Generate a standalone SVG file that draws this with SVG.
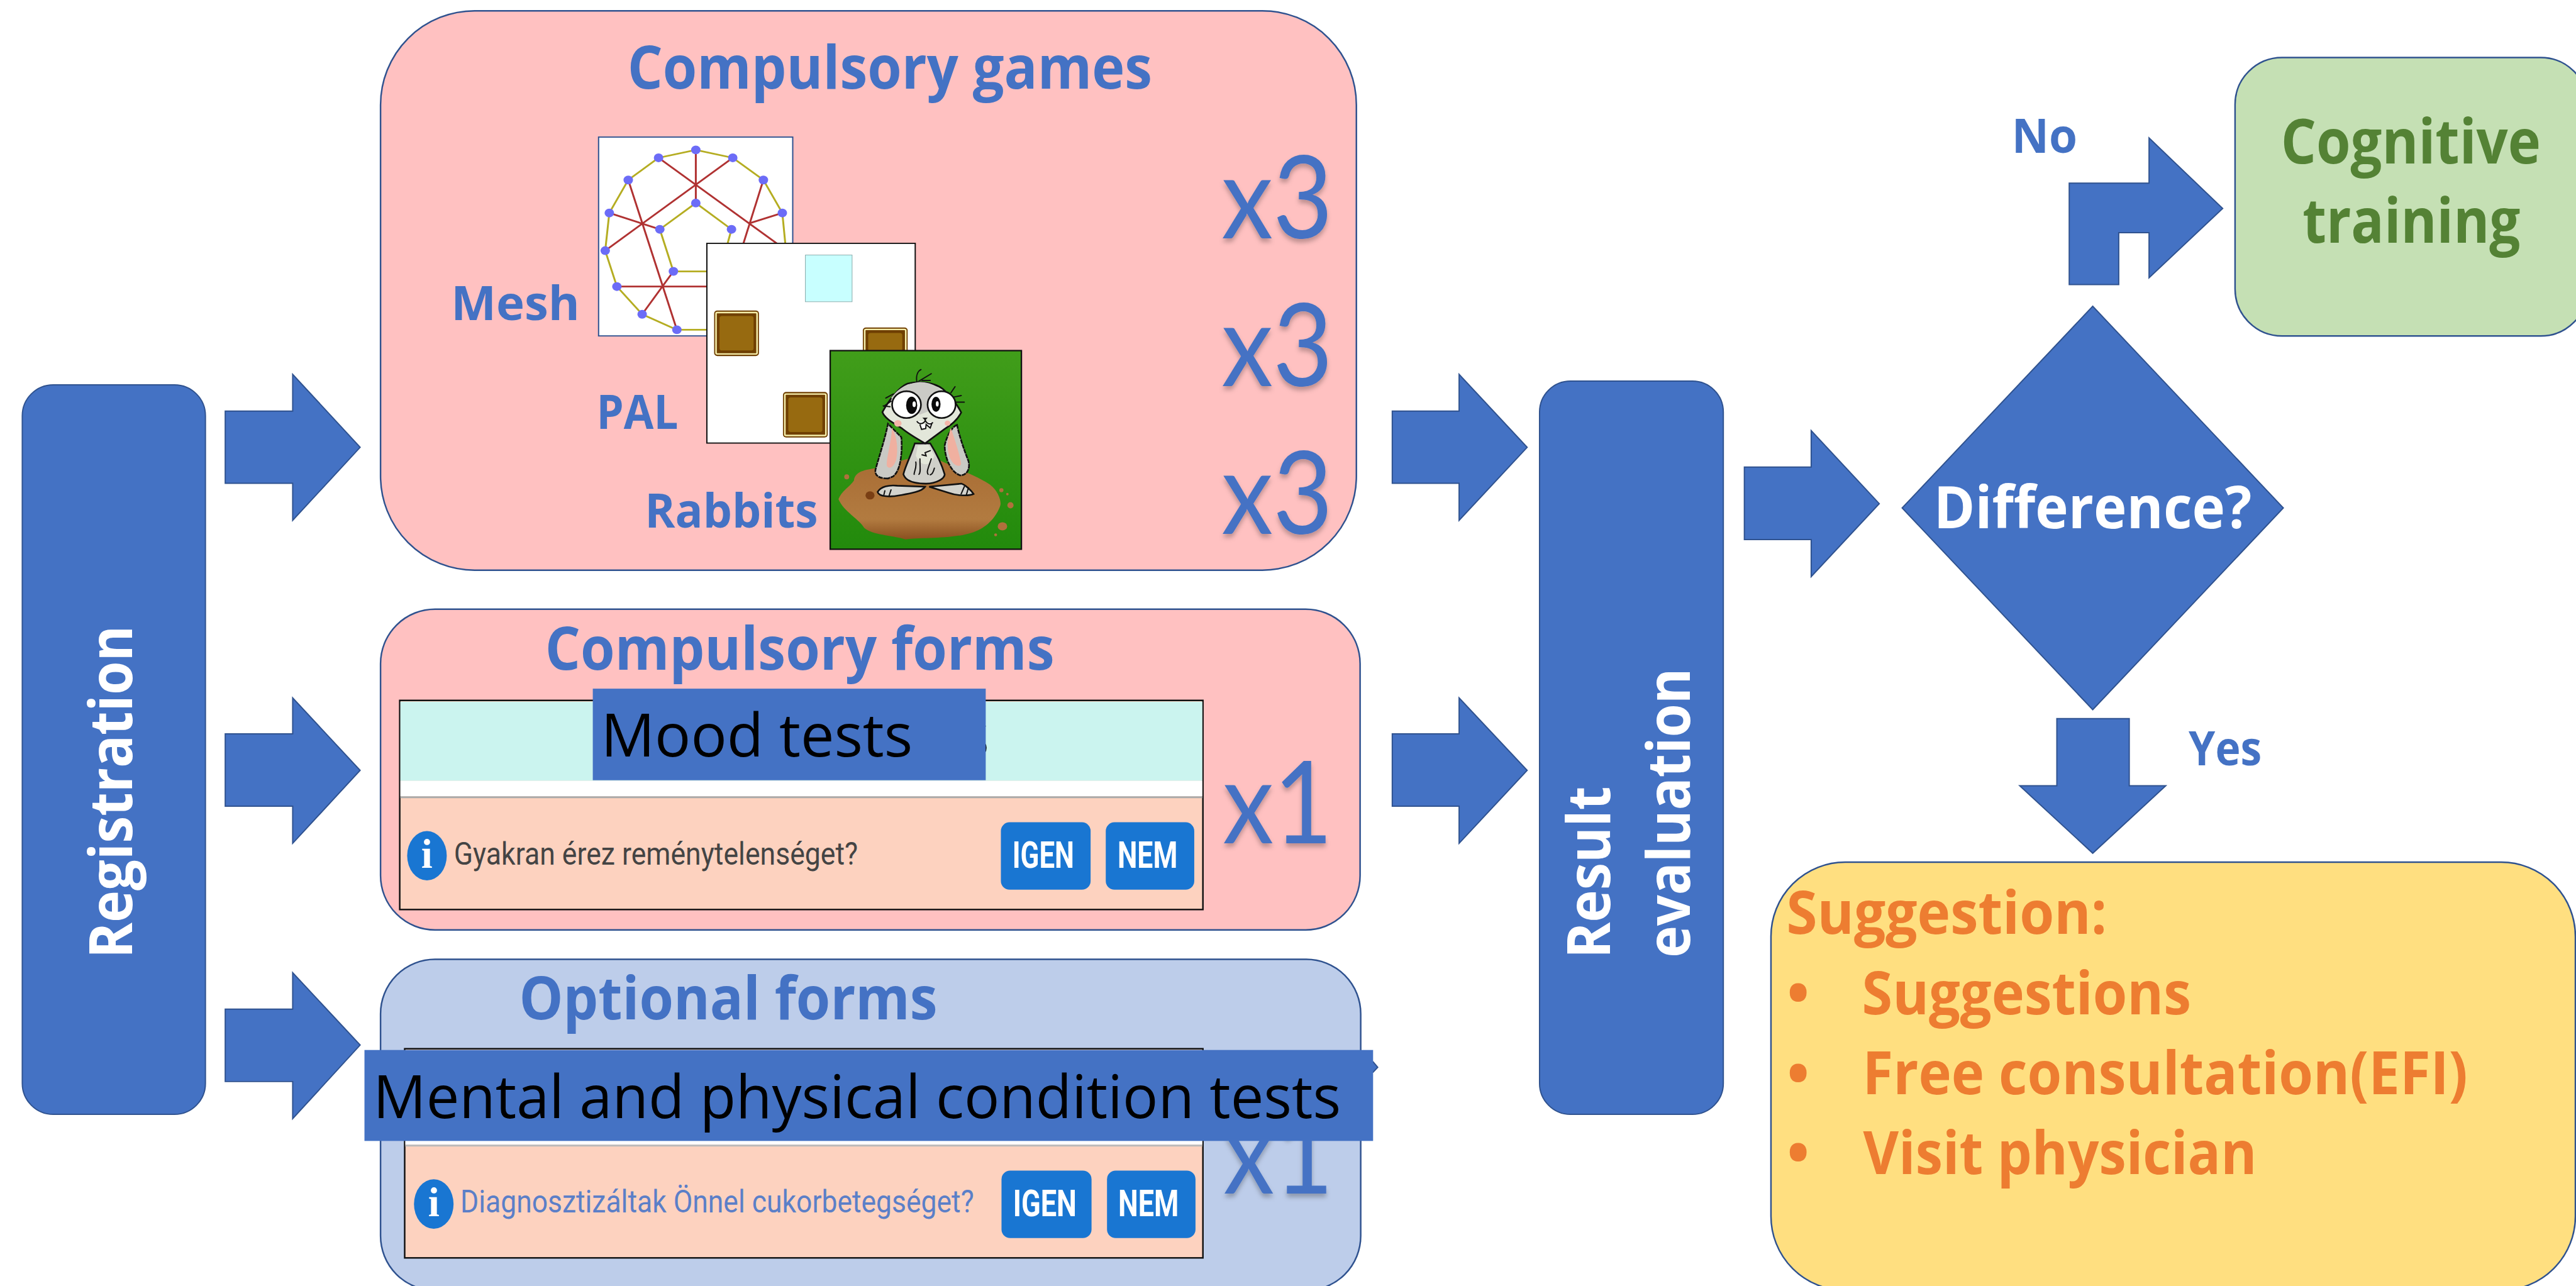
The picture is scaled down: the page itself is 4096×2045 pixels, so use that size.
<svg xmlns="http://www.w3.org/2000/svg" width="4096" height="2045" viewBox="0 0 4096 2045">
<style>
text{font-family:"Open Sans",Lato,sans-serif}
.b{font-weight:700}
.h{font-weight:700;font-size:97px;fill:#4472c4}
.l{font-weight:700;font-size:77px;fill:#4472c4}
.w{font-weight:700;fill:#fff}
.o{font-weight:700;font-size:97px;fill:#ed7d31}
.x{font-family:Lato,sans-serif;font-size:186px;fill:#4472c4;filter:url(#sh)}
.k{font-size:96px;fill:#000}
.arrow{fill:#4472c4;stroke:#2f528f;stroke-width:2}
.box{stroke:#2f528f;stroke-width:2.5}
.q{font-family:Roboto,sans-serif;font-size:50px}
.btn{fill:#1976d2}
.bt{font-family:Roboto,sans-serif;font-weight:700;font-size:60px;fill:#fff}
.ic{fill:#1976d2}
.it{font-family:"Liberation Serif",serif;font-weight:700;font-size:66px;fill:#fff;text-anchor:middle}
.yl{stroke:#b5ad22;stroke-width:6;fill:none}
.rd{stroke:#b03232;stroke-width:6;fill:none}
.nd{fill:#6c6cf7}
.ln{stroke:#111;stroke-width:6;fill:none;stroke-linecap:round}
</style>
<defs>
<filter id="sh" x="-10%" y="-10%" width="120%" height="130%"><feDropShadow dx="0" dy="6" stdDeviation="4" flood-color="#000" flood-opacity=".25"/></filter>
<linearGradient id="gg" x1="0" y1="0" x2="0" y2="1"><stop offset="0" stop-color="#419d1a"/><stop offset="1" stop-color="#228a0c"/></linearGradient>
<linearGradient id="mg" x1="0" y1="0" x2="0" y2="1"><stop offset="0" stop-color="#a86c34"/><stop offset=".75" stop-color="#b27b40"/><stop offset="1" stop-color="#8a5020"/></linearGradient>
<g id="crate"><rect x="0" y="0" width="142" height="156" rx="10" fill="#6f3f02"/><rect x="6" y="7" width="130" height="142" rx="4" fill="none" stroke="#f6eeaa" stroke-width="5"/><rect x="17" y="19" width="108" height="118" rx="8" fill="#976a10"/></g>
</defs>
<g transform="scale(.98391)">
<g id="connectors">
<polygon class="arrow" points="364,664.5 473,664.5 473,605 582,723 473,841 473,781 364,781"/>
<polygon class="arrow" points="364,1186 473,1186 473,1128 582,1245 473,1363 473,1303 364,1303"/>
<polygon class="arrow" points="364,1631 473,1631 473,1572 582,1689 473,1808 473,1748 364,1748"/>
<polygon class="arrow" points="2250,664.5 2358,664.5 2358,605 2468,723 2358,841 2358,781 2250,781"/>
<polygon class="arrow" points="2250,1186 2358,1186 2358,1128 2468,1245 2358,1363 2358,1303 2250,1303"/>
<polygon class="arrow" points="2200,1716 2219,1716 2226.5,1725 2219,1733 2200,1733"/>
<polygon class="arrow" points="2819,755 2927,755 2927,696 3037,814 2927,932 2927,872 2819,872"/>
<polygon class="arrow" points="3344,460 3344,296 3473,296 3473,223 3592,337 3473,449 3473,376 3424,376 3424,460"/>
<polygon class="arrow" points="3324,1161.5 3441,1161.5 3441,1270 3500,1270 3382,1379 3264,1270 3324,1270"/>
</g>
<g id="registration">
<rect x="36" y="622" width="296" height="1179" rx="50" fill="#4472c4" stroke="#2f528f" stroke-width="2"/>
<text class="w" font-size="96" transform="translate(213.5 1549) rotate(-90)" textLength="538" lengthAdjust="spacingAndGlyphs">Registration</text>
</g>
<g id="compulsory-games">
<rect class="box" x="615" y="17.5" width="1577" height="904" rx="152" fill="#ffc1c1"/>
<text class="h" x="1014" y="143" textLength="848" lengthAdjust="spacingAndGlyphs">Compulsory games</text>
<text class="l" x="729" y="517" textLength="208" lengthAdjust="spacingAndGlyphs">Mesh</text>
<text class="l" x="964" y="693" textLength="132" lengthAdjust="spacingAndGlyphs">PAL</text>
<text class="l" x="1042" y="852.5" textLength="280" lengthAdjust="spacingAndGlyphs">Rabbits</text>
<text class="x" x="1974" y="385" textLength="180" lengthAdjust="spacingAndGlyphs">x3</text>
<text class="x" x="1974" y="624" textLength="180" lengthAdjust="spacingAndGlyphs">x3</text>
<text class="x" x="1974" y="863" textLength="180" lengthAdjust="spacingAndGlyphs">x3</text>
<g transform="translate(900 180) scale(.5102 .4719)">
<rect x="132" y="88" width="615" height="681" fill="#fff" stroke="#2f528f" stroke-width="4"/>
<polyline class="yl" points="380,748 270,695 190,600 153,477 166,348 226,235 322,159 440,132 557,159 654,235 714,348 725,470"/>
<polyline class="yl" points="475,548 369,548 326,404 440,314 553,404 540,455"/>
<line class="yl" x1="380" y1="748" x2="480" y2="748"/>
<g class="rd">
<line x1="440" y1="132" x2="440" y2="314"/>
<line x1="322" y1="159" x2="700" y2="455"/>
<line x1="557" y1="159" x2="153" y2="477"/>
<line x1="226" y1="235" x2="380" y2="748"/>
<line x1="166" y1="348" x2="326" y2="404"/>
<line x1="714" y1="348" x2="608" y2="384"/>
<line x1="654" y1="235" x2="590" y2="455"/>
<line x1="190" y1="600" x2="480" y2="600"/>
<line x1="369" y1="548" x2="270" y2="695"/>
</g>
<g class="nd">
<circle cx="440" cy="132" r="15"/><circle cx="557" cy="159" r="15"/><circle cx="654" cy="235" r="15"/><circle cx="714" cy="348" r="15"/><circle cx="322" cy="159" r="15"/><circle cx="226" cy="235" r="15"/><circle cx="166" cy="348" r="15"/><circle cx="153" cy="477" r="15"/><circle cx="190" cy="600" r="15"/><circle cx="270" cy="695" r="15"/><circle cx="380" cy="748" r="15"/><circle cx="440" cy="314" r="15"/><circle cx="326" cy="404" r="15"/><circle cx="553" cy="404" r="15"/><circle cx="369" cy="548" r="15"/>
</g>
<rect x="475" y="452" width="660" height="684" fill="#fff" stroke="#111" stroke-width="4"/>
<rect x="787" y="492" width="148" height="160" fill="#c8ffff" stroke="#8aa" stroke-width="2"/>
<use href="#crate" x="498" y="682"/>
<use href="#crate" x="969" y="740"/>
<use href="#crate" x="716" y="961"/>
</g>
<g transform="translate(1340 560) scale(.33333)">
<rect x="5" y="20" width="927" height="963" fill="url(#gg)" stroke="#111" stroke-width="7"/>
<path d="M45,740 C60,700 100,680 120,650 C125,610 160,600 225,590 L380,545 L530,550 C620,590 720,630 780,670 C820,700 835,750 830,770 C810,830 760,880 700,900 C600,935 450,925 370,935 C300,915 210,915 170,880 C150,840 70,800 45,740Z" fill="url(#mg)"/>
<g fill="#b0703c"><circle cx="85" cy="632" r="12"/><circle cx="835" cy="697" r="10"/><circle cx="864" cy="716" r="6"/><circle cx="879" cy="770" r="15"/><ellipse cx="840" cy="872" rx="23" ry="20"/><circle cx="807" cy="913" r="7"/></g>
<ellipse cx="198" cy="722" rx="22" ry="20" fill="#7a3f14"/>
<path d="M285,640 C220,640 222,610 225,595 C240,540 270,450 285,375 L350,440 C355,500 350,600 310,630Z" fill="#c9c9c4" stroke="#111" stroke-width="8" stroke-dasharray="22 3"/>
<path d="M305,395 C300,470 275,550 280,580 C295,600 315,580 325,550 C335,500 330,440 305,395Z" fill="#f0b0a0"/>
<path d="M620,380 C600,385 570,430 560,480 C560,540 590,610 635,625 C670,625 685,590 675,555 C650,490 630,430 620,380Z" fill="#c9c9c4" stroke="#111" stroke-width="8" stroke-dasharray="22 3"/>
<path d="M590,395 C570,450 570,500 585,540 C600,575 630,590 640,570 C630,510 605,440 590,395Z" fill="#f0b0a0"/>
<path d="M415,470 C400,520 365,590 360,620 C370,650 410,665 470,665 C520,665 560,640 560,620 C545,570 515,510 490,470Z" fill="#d0d0ca" stroke="#111" stroke-width="8"/>
<path d="M430,480 L420,530 C440,580 490,590 510,530 L480,475Z" fill="#e3e7da"/>
<path d="M235,705 C250,680 290,670 330,675 L465,680 C450,705 380,715 340,722 C300,730 240,730 235,705Z" fill="#d3d3cd" stroke="#111" stroke-width="8"/>
<path d="M485,680 L640,665 C660,670 690,700 700,715 C680,725 620,725 580,710Z" fill="#d3d3cd" stroke="#111" stroke-width="8"/>
<path class="ln" d="M420,560 C425,590 410,610 412,620 M440,545 C440,590 445,610 435,620 M495,545 C480,590 470,610 480,620 M510,590 C505,610 500,620 490,622 M450,525 L470,530 L465,515 L490,505 M265,720 L270,700 M290,725 L300,695 M640,715 L655,680 M665,720 L675,685"/>
<path d="M258,318 C290,260 340,195 380,180 C440,165 510,175 550,205 C590,240 620,280 640,320 C620,360 590,380 560,400 L465,470 C430,450 380,420 350,395 C310,370 270,350 258,318Z" fill="#e3e7da" stroke="#111" stroke-width="8"/>
<path d="M300,250 C340,195 380,180 440,172 C500,172 550,205 600,270 L440,330Z" fill="#cbcbc6"/>
<path class="ln" d="M425,170 C420,140 430,120 445,112 M435,168 L495,132 M450,165 L490,165 M312,230 L275,250 M300,265 L265,290 M295,292 L262,288 M590,225 L610,195 M605,245 L640,238 M615,270 L655,270"/>
<ellipse cx="375" cy="282" rx="70" ry="65" fill="#fff" stroke="#111" stroke-width="8"/>
<ellipse cx="545" cy="282" rx="68" ry="65" fill="#fff" stroke="#111" stroke-width="8"/>
<ellipse cx="400" cy="285" rx="27" ry="42" fill="#0a0a0a"/><ellipse cx="412" cy="280" rx="8" ry="14" fill="#fff"/>
<ellipse cx="518" cy="280" rx="22" ry="36" fill="#0a0a0a"/><ellipse cx="524" cy="278" rx="7" ry="13" fill="#fff"/>
<ellipse cx="333" cy="373" rx="18" ry="16" fill="#f4b5a8"/><ellipse cx="574" cy="372" rx="14" ry="13" fill="#f4b5a8"/>
<path d="M425,362 C440,385 470,370 465,350 C465,370 490,385 503,368 M440,378 L448,402 L468,398 L470,378 L490,395 L498,372" fill="#fff" stroke="#111" stroke-width="6"/>
<path d="M452,345 L478,345 L465,358Z" fill="#111"/>
</g>
</g>
<g id="compulsory-forms">
<rect class="box" x="615" y="984.5" width="1583" height="518.5" rx="88" fill="#ffc1c1"/>
<text class="h" x="881" y="1082" textLength="823" lengthAdjust="spacingAndGlyphs">Compulsory forms</text>
<rect x="646" y="1132" width="1298" height="338" fill="#fdd2bf" stroke="#111" stroke-width="2.5"/>
<rect x="647" y="1134" width="1296" height="128" fill="#cbf4ef"/>
<rect x="647" y="1262" width="1296" height="25" fill="#fff"/>
<rect x="647" y="1287" width="1296" height="3" fill="#aaa"/>
<ellipse class="ic" cx="690" cy="1383" rx="32" ry="40"/>
<text class="it" x="690" y="1403">i</text>
<text class="q" x="733.5" y="1397" fill="#444" textLength="653" lengthAdjust="spacingAndGlyphs">Gyakran érez reménytelenséget?</text>
<rect class="btn" x="1617.5" y="1329" width="145" height="109" rx="14"/>
<rect class="btn" x="1787" y="1329" width="143" height="109" rx="14"/>
<text class="bt" x="1636" y="1403" textLength="100" lengthAdjust="spacingAndGlyphs">IGEN</text>
<text class="bt" x="1806" y="1403" textLength="97" lengthAdjust="spacingAndGlyphs">NEM</text>
<text class="k" x="1553" y="1223">s</text>
<rect x="958" y="1113" width="635" height="148" fill="#4472c4"/>
<text class="k" x="971" y="1223" textLength="504" lengthAdjust="spacingAndGlyphs">Mood tests</text>
<text class="x" x="1976" y="1363" textLength="178" lengthAdjust="spacingAndGlyphs">x1</text>
</g>
<g id="optional-forms">
<rect class="box" x="615" y="1550.5" width="1584" height="535" rx="88" fill="#bdcdea"/>
<text class="h" x="839" y="1648" textLength="676" lengthAdjust="spacingAndGlyphs">Optional forms</text>
<text class="x" x="1977" y="1929" textLength="178" lengthAdjust="spacingAndGlyphs">x1</text>
<rect x="654" y="1695" width="1290" height="338" fill="#fdd2bf" stroke="#111" stroke-width="2.5"/>
<rect x="655" y="1697" width="1288" height="153" fill="#fff"/>
<rect x="655" y="1850" width="1288" height="3" fill="#bbb"/>
<ellipse class="ic" cx="701" cy="1946" rx="32" ry="40"/>
<text class="it" x="701" y="1966">i</text>
<text class="q" x="744" y="1960" fill="#5b7fc8" textLength="830" lengthAdjust="spacingAndGlyphs">Diagnosztizáltak Önnel cukorbetegséget?</text>
<rect class="btn" x="1618.5" y="1892" width="145.5" height="109" rx="14"/>
<rect class="btn" x="1789" y="1892" width="143" height="109" rx="14"/>
<text class="bt" x="1637" y="1966" textLength="103" lengthAdjust="spacingAndGlyphs">IGEN</text>
<text class="bt" x="1807" y="1966" textLength="98" lengthAdjust="spacingAndGlyphs">NEM</text>
<rect x="589" y="1697" width="1630" height="147" fill="#4472c4"/>
<text class="k" x="603" y="1807" textLength="1564" lengthAdjust="spacingAndGlyphs">Mental and physical condition tests</text>
</g>
<g id="result-evaluation">
<rect x="2488" y="616" width="297" height="1185" rx="50" fill="#4472c4" stroke="#2f528f" stroke-width="2"/>
<text class="w" font-size="96" transform="translate(2601.5 1549) rotate(-90)" textLength="278" lengthAdjust="spacingAndGlyphs">Result</text>
<text class="w" font-size="96" transform="translate(2730.5 1548) rotate(-90)" textLength="468" lengthAdjust="spacingAndGlyphs">evaluation</text>
</g>
<g id="difference">
<polygon points="3382,495 3690,821 3382,1147 3074,821" fill="#4472c4" stroke="#2f528f" stroke-width="2"/>
<text class="w" font-size="94" x="3125" y="853.5" textLength="514" lengthAdjust="spacingAndGlyphs">Difference?</text>
</g>
<g id="cognitive-training">
<rect class="box" x="3612" y="93" width="570" height="450" rx="76" fill="#c5e0b4"/>
<text class="b" font-size="100" fill="#548235" x="3686" y="264" textLength="420" lengthAdjust="spacingAndGlyphs">Cognitive</text>
<text class="b" font-size="100" fill="#548235" x="3721" y="392" textLength="352" lengthAdjust="spacingAndGlyphs">training</text>
</g>
<g id="suggestion">
<rect class="box" x="2862" y="1393.5" width="1300" height="692" rx="120" fill="#ffdf80"/>
<text class="o" x="2887" y="1509" textLength="518" lengthAdjust="spacingAndGlyphs">Suggestion:</text>
<text class="o" x="2906" y="1639.5" text-anchor="middle">•</text>
<text class="o" x="2906" y="1769" text-anchor="middle">•</text>
<text class="o" x="2906" y="1898" text-anchor="middle">•</text>
<text class="o" x="3009" y="1639.5" textLength="532" lengthAdjust="spacingAndGlyphs">Suggestions</text>
<text class="o" x="3010" y="1768.5" textLength="978" lengthAdjust="spacingAndGlyphs">Free consultation(EFI)</text>
<text class="o" x="3011" y="1898" textLength="636" lengthAdjust="spacingAndGlyphs">Visit physician</text>
</g>
<text class="l" id="label-no" x="3251" y="246.5" textLength="106" lengthAdjust="spacingAndGlyphs">No</text>
<text class="l" id="label-yes" x="3537" y="1237" textLength="118" lengthAdjust="spacingAndGlyphs">Yes</text>
</g>
</svg>
